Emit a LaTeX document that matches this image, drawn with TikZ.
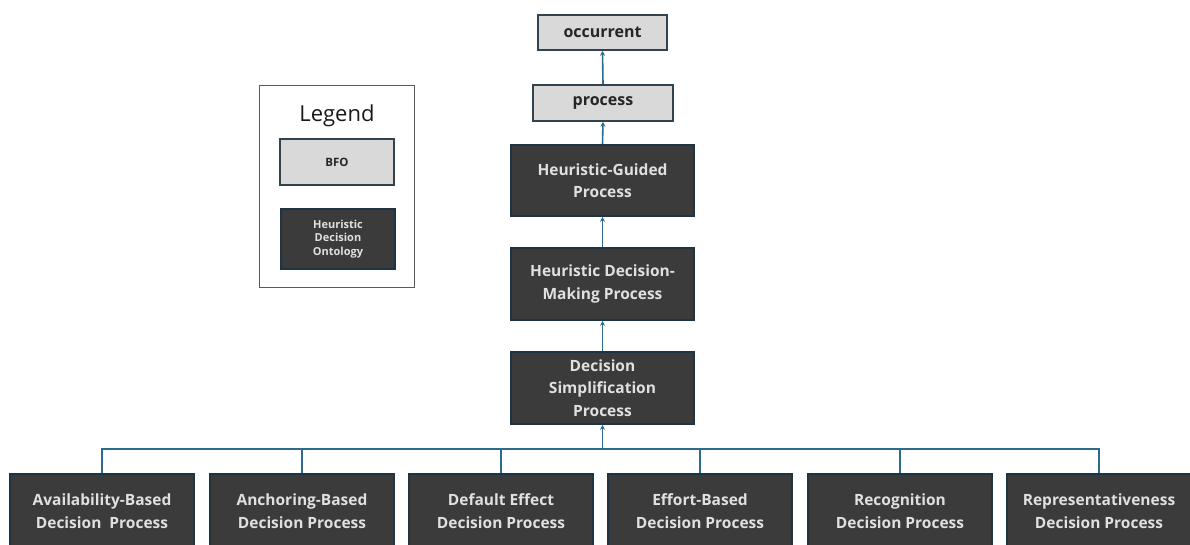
\documentclass[tikz,border=0pt]{standalone}
\usepackage{fontspec}
\setmainfont{Open Sans}
\usetikzlibrary{arrows.meta}
\definecolor{darkfill}{HTML}{3B3B3B}
\definecolor{darkedge}{HTML}{1E3442}
\definecolor{lightfill}{HTML}{D9D9D9}
\definecolor{linkcol}{HTML}{2E6A8C}
\tikzset{
  hdo/.style={draw=darkedge, line width=1.6pt, fill=darkfill, text=white!88!black,
    align=center, inner sep=0pt, font=\fontsize{15.5}{22.5}\selectfont\bfseries},
  bfo/.style={draw=darkedge!80!gray, line width=1.6pt, fill=lightfill, text=black!85,
    align=center, inner sep=0pt, font=\fontsize{16}{20}\selectfont\bfseries},
  link/.style={draw=linkcol, line width=1.6pt},
  isa/.style={link, -{Stealth[length=5pt,width=5pt]}},
}
\begin{document}
\begin{tikzpicture}[x=1pt,y=-1pt]
\useasboundingbox (0,0) rectangle (1190,545);
\clip (0,0) rectangle (1190,545);
% legend
\node[draw=gray!70!black, line width=1pt, minimum width=155pt, minimum height=201pt, inner sep=0pt] (legend) at (336.5,186.5) {};
\node[font=\fontsize{22}{26}\selectfont, text=black!90] (legtitle) at (337,116) {Legend};
\node[bfo, minimum width=114pt, minimum height=46pt, font=\fontsize{11.5}{12}\selectfont\bfseries] (legbfo) at (337,162) {BFO};
\node[hdo, minimum width=114pt, minimum height=60pt, font=\fontsize{11}{13.5}\selectfont\bfseries] (leghdo) at (338,239) {Heuristic\\Decision\\Ontology};
% central column
\node[bfo, minimum width=129pt, minimum height=35pt] (occ) at (602.5,32.5) {occurrent};
\node[bfo, minimum width=140pt, minimum height=36pt] (proc) at (603,103) {process};
\node[hdo, minimum width=183pt, minimum height=71pt] (hgp) at (602.5,180.5) {Heuristic-Guided\\Process};
\node[hdo, minimum width=183pt, minimum height=72pt] (hdm) at (602.5,284) {Heuristic Decision-\\Making Process};
\node[hdo, minimum width=183pt, minimum height=72pt] (dsp) at (602.5,388) {Decision\\Simplification\\Process};
% bottom row
\node[hdo, minimum width=184pt, minimum height=74pt] (b1) at (102,511) {Availability-Based\\Decision\ \ Process};
\node[hdo, minimum width=184pt, minimum height=74pt] (b2) at (302,511) {Anchoring-Based\\Decision Process};
\node[hdo, minimum width=184pt, minimum height=74pt] (b3) at (501,511) {Default Effect\\Decision Process};
\node[hdo, minimum width=184pt, minimum height=74pt] (b4) at (700,511) {Effort-Based\\Decision Process};
\node[hdo, minimum width=184pt, minimum height=74pt] (b5) at (900,511) {Recognition\\Decision Process};
\node[hdo, minimum width=184pt, minimum height=74pt] (b6) at (1099,511) {Representativeness\\Decision Process};
% connectors
\coordinate (bus) at (602.5,449);
\foreach \b in {b1,b2,b3,b4,b5,b6}{
  \draw[link] (\b.north) |- (bus);
}
\draw[isa] (bus) -- (dsp.south);
\draw[isa] (dsp.north) -- (hdm.south);
\draw[isa] (hdm.north) -- (hgp.south);
\draw[isa] (hgp.north) -- (proc.south);
\draw[isa] (proc.north) -- (occ.south);
\end{tikzpicture}
\end{document}
